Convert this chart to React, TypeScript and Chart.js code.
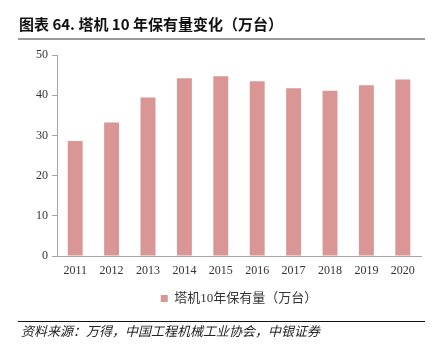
import React, { useEffect, useRef } from "react";
import { Chart, registerables } from "chart.js";

Chart.register(...registerables);

const categories = ["2011", "2012", "2013", "2014", "2015", "2016", "2017", "2018", "2019", "2020"];
const holdings = [28.6, 33.2, 39.4, 44.2, 44.7, 43.5, 41.7, 41.1, 42.5, 43.9];
const yTicks = [0, 10, 20, 30, 40, 50];
const seriesLabel = "塔机10年保有量（万台）";
const titleText = "图表 64. 塔机 10 年保有量变化（万台）";
const sourceText = "资料来源：万得，中国工程机械工业协会，中银证券";

const BAR = "#DA9694";
const SERIF = "'Liberation Serif', 'Noto Sans CJK SC', serif";

export default function App() {
  const ref = useRef<HTMLCanvasElement | null>(null);

  useEffect(() => {
    document.body.style.margin = "0";
    const canvas = ref.current;
    if (!canvas) return;
    const chart = new Chart(canvas, {
      type: "bar",
      data: {
        labels: categories,
        datasets: [
          {
            label: seriesLabel,
            data: holdings,
            backgroundColor: BAR,
            borderWidth: 0,
            categoryPercentage: 1,
            barPercentage: 0.41,
          },
        ],
      },
      options: {
        animation: false,
        responsive: false,
        maintainAspectRatio: false,
        layout: { padding: { left: 17, right: 11, top: 55, bottom: 37 } },
        plugins: {
          tooltip: { enabled: false },
          title: { display: false },
          legend: {
            display: true,
            position: "bottom",
            fullSize: false,
            labels: {
              boxWidth: 7,
              boxHeight: 7,
              padding: 9,
              color: "#333333",
              font: { family: SERIF, size: 13 },
            },
          },
        },
        scales: {
          x: {
            afterFit: (s: any) => {
              s.height = 27;
            },
            grid: { display: true, drawOnChartArea: false, drawTicks: false },
            border: { display: true, color: "#A6A6A6", width: 1 },
            ticks: {
              padding: 8,
              color: "#333333",
              font: { family: SERIF, size: 12 },
              maxRotation: 0,
            },
          },
          y: {
            min: 0,
            max: 50,
            afterFit: (s: any) => {
              s.width = 40;
            },
            afterBuildTicks: (s: any) => {
              s.ticks = yTicks.map((v) => ({ value: v }));
            },
            grid: {
              display: true,
              drawOnChartArea: false,
              drawTicks: true,
              tickLength: 5,
              tickColor: "#A6A6A6",
            },
            border: { display: true, color: "#A6A6A6", width: 1 },
            ticks: {
              padding: 4,
              color: "#333333",
              font: { family: SERIF, size: 12 },
            },
          },
        },
      },
    });
    return () => chart.destroy();
  }, []);

  return (
    <div style={{ position: "relative", width: 432, height: 352, background: "#fff", overflow: "hidden" }}>
      <canvas ref={ref} width={432} height={352} style={{ position: "absolute", left: 0, top: 0, width: 432, height: 352 }} />
      <div
        style={{
          position: "absolute",
          left: 19,
          top: 15,
          fontFamily: "'Noto Sans CJK SC', sans-serif",
          fontWeight: 700,
          fontSize: 15,
          lineHeight: "18px",
          color: "#111",
          whiteSpace: "nowrap",
        }}
      >
        {titleText}
      </div>
      <div style={{ position: "absolute", left: 18, top: 38, width: 407, height: 2, background: "#9B9B9B" }} />
      <div style={{ position: "absolute", left: 18, top: 321, width: 407, height: 1, background: "#111" }} />
      <div
        style={{
          position: "absolute",
          left: 21,
          top: 323,
          fontFamily: "'Noto Sans CJK SC', sans-serif",
          fontStyle: "italic",
          fontSize: 13,
          lineHeight: "16px",
          color: "#222",
          whiteSpace: "nowrap",
        }}
      >
        {sourceText}
      </div>
    </div>
  );
}
